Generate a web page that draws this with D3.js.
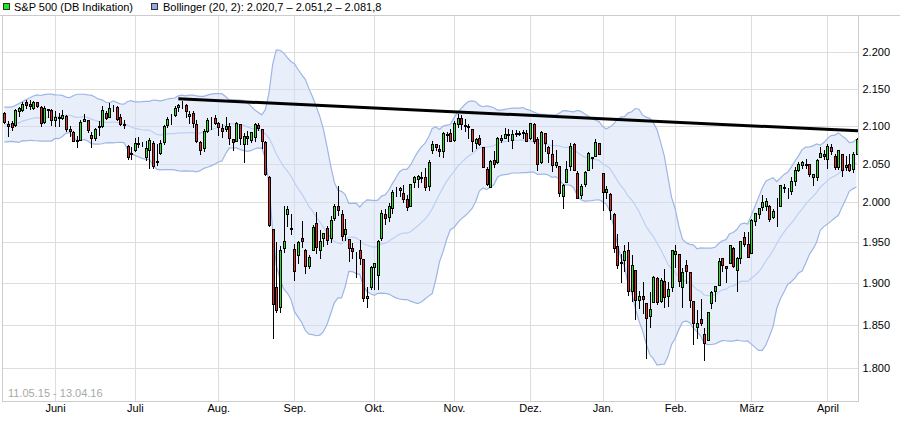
<!DOCTYPE html>
<html>
<head>
<meta charset="utf-8">
<script src="https://cdnjs.cloudflare.com/ajax/libs/d3/7.8.5/d3.min.js"></script>
<style>
body{margin:0;background:#fff}
svg{display:block;font-family:"Liberation Sans",Arial,sans-serif;font-size:11px}
</style>
</head>
<body>
<svg id="chart"></svg>
<script>
// trading days of the DB indication (German calendar)
var tradingDays = [
  ["2015-05", [11,12,13,14,15,18,19,20,21,22,26,27,28,29]],
  ["2015-06", [1,2,3,4,5,8,9,10,11,12,15,16,17,18,19,22,23,24,25,26,29,30]],
  ["2015-07", [1,2,3,6,7,8,9,10,13,14,15,16,17,20,21,22,23,24,27,28,29,30,31]],
  ["2015-08", [3,4,5,6,7,10,11,12,13,14,17,18,19,20,21,24,25,26,27,28,31]],
  ["2015-09", [1,2,3,4,7,8,9,10,11,14,15,16,17,18,21,22,23,24,25,28,29,30]],
  ["2015-10", [1,2,5,6,7,8,9,12,13,14,15,16,19,20,21,22,23,26,27,28,29,30]],
  ["2015-11", [2,3,4,5,6,9,10,11,12,13,16,17,18,19,20,23,24,25,26,27,30]],
  ["2015-12", [1,2,3,4,7,8,9,10,11,14,15,16,17,18,21,22,23,28,29,30]],
  ["2016-01", [4,5,6,7,8,11,12,13,14,15,18,19,20,21,22,25,26,27,28,29]],
  ["2016-02", [1,2,3,4,5,8,9,10,11,12,15,16,17,18,19,22,23,24,25,26,29]],
  ["2016-03", [1,2,3,4,7,8,9,10,11,14,15,16,17,18,21,22,23,24,29,30,31]],
  ["2016-04", [1,4,5,6,7,8,11,12,13]]
];

var open = [
  2117,2102,2103,2101,2120,2121,2131,2129,2123,2131,2125,2105,2122,2121,
  2108,2112,2110,2113,2096,2092,2081,2081,2106,2107,2087,2083,2098,2100,2117,2112,2124,2125,2112,2102,2073,2063,
  2068,2075,2076,2058,2068,2077,2053,2064,2078,2101,2108,2114,2125,2127,2128,2113,2117,2102,2078,2070,2093,2107,2110,
  2104,2097,2095,2100,2082,2080,2102,2075,2086,2081,2085,2101,2095,2078,2033,1966,1895,1872,1943,1985,1968,
  1942,1934,1955,1940,1921,1941,1974,1940,1955,1968,1955,1980,1996,1985,1960,1954,1943,1932,1940,1929,1882,1895,
  1920,1910,1955,1985,1982,1993,2015,2016,2012,2004,1996,2026,2030,2033,2033,2021,2068,2075,2069,2066,2088,2090,
  2081,2102,2110,2101,2098,2096,2077,2084,2072,2043,2020,2054,2052,2084,2084,2089,2081,2090,2089,2091,2090,
  2083,2102,2082,2052,2090,2072,2062,2048,2047,2008,2026,2047,2075,2038,2010,2024,2042,2058,2060,2077,
  2038,2013,2011,1985,1945,1926,1928,1940,1891,1916,1880,1885,1876,1861,1877,1906,1879,1903,1885,1895,
  1936,1935,1895,1922,1913,1878,1848,1857,1840,1833,1876,1891,1898,1930,1921,1925,1943,1916,1931,1956,1948,
  1937,1977,1985,1994,1996,1996,1981,1990,1995,2018,2016,2015,2027,2041,2048,2048,2049,2032,2032,2058,2063,
  2056,2072,2060,2045,2063,2046,2050,2043,2063
];
var high = [
  2118,2106,2106,2122,2125,2132,2134,2134,2133,2132,2126,2126,2122,2122,
  2119,2117,2121,2114,2100,2093,2086,2108,2115,2108,2092,2097,2106,2126,2120,2130,2127,2126,2115,2108,2074,2072,
  2083,2085,2078,2080,2084,2079,2075,2081,2101,2111,2115,2126,2129,2133,2129,2119,2119,2107,2079,2095,2110,2111,2114,
  2105,2102,2112,2103,2082,2105,2102,2090,2093,2092,2103,2103,2096,2080,2034,1966,1950,1945,1995,1995,1985,
  1948,1952,1976,1942,1934,1971,1988,1965,1962,1970,1983,1998,2021,1990,1979,1954,1949,1938,1953,1929,1895,1921,
  1925,1953,1990,1991,1999,2016,2019,2020,2022,2010,2024,2034,2035,2039,2044,2055,2080,2076,2074,2091,2092,2095,
  2106,2116,2114,2109,2102,2096,2084,2087,2072,2045,2055,2066,2085,2087,2097,2096,2094,2094,2093,2094,2094,
  2104,2104,2085,2093,2090,2073,2081,2067,2047,2023,2053,2077,2077,2040,2023,2040,2065,2058,2082,2077,
  2038,2021,2012,1986,1960,1935,1947,1950,1934,1916,1890,1902,1876,1889,1909,1907,1906,1917,1902,1940,
  1947,1935,1918,1928,1913,1878,1868,1881,1847,1865,1890,1897,1930,1931,1921,1947,1944,1932,1952,1963,1963,
  1979,1986,1993,2009,2006,1997,1992,2006,2022,2024,2018,2033,2046,2052,2053,2056,2050,2037,2056,2072,2068,
  2075,2075,2062,2068,2063,2060,2062,2065,2084
];
var low = [
  2103,2086,2094,2100,2113,2120,2124,2122,2122,2125,2099,2104,2112,2101,
  2099,2099,2109,2093,2086,2079,2072,2081,2106,2091,2072,2081,2087,2098,2109,2111,2119,2108,2101,2097,2056,2056,
  2066,2071,2073,2055,2044,2044,2048,2062,2076,2098,2102,2113,2120,2124,2112,2103,2098,2078,2063,2066,2092,2095,2102,
  2088,2085,2093,2075,2067,2080,2076,2052,2076,2078,2079,2094,2070,2035,1970,1835,1865,1866,1938,1970,1960,
  1904,1925,1944,1912,1918,1941,1937,1930,1945,1948,1950,1978,1984,1953,1953,1927,1930,1908,1923,1878,1872,1893,
  1893,1893,1953,1973,1976,1987,2008,2008,2001,1990,1996,2020,2020,2026,2016,2016,2064,2067,2060,2058,2080,2079,
  2080,2098,2096,2093,2083,2066,2070,2074,2045,2022,2019,2045,2051,2078,2083,2080,2070,2086,2087,2084,2080,
  2082,2077,2042,2051,2066,2052,2040,2045,2008,1993,2026,2042,2041,2005,2006,2021,2042,2044,2060,2062,
  1990,2005,1979,1938,1918,1901,1915,1886,1878,1857,1870,1864,1812,1848,1877,1875,1877,1872,1873,1891,
  1920,1897,1872,1900,1872,1828,1835,1850,1810,1833,1870,1878,1898,1915,1902,1924,1919,1891,1925,1945,1932,
  1937,1972,1980,1990,1990,1977,1980,1970,1995,2013,2005,2011,2022,2040,2044,2044,2034,2022,2029,2058,2056,
  2044,2062,2043,2043,2034,2041,2040,2039,2063
];
var close = [
  2105,2100,2098,2121,2123,2129,2128,2126,2131,2126,2104,2123,2121,2107,
  2112,2110,2114,2096,2093,2079,2080,2105,2109,2094,2084,2096,2100,2121,2110,2123,2124,2109,2102,2101,2058,2064,
  2077,2077,2075,2070,2081,2047,2052,2077,2100,2109,2107,2124,2127,2128,2119,2116,2103,2080,2068,2093,2108,2108,2104,
  2098,2093,2100,2084,2078,2104,2084,2086,2083,2091,2102,2097,2080,2036,1971,1875,1868,1941,1952,1991,1967,
  1915,1950,1951,1921,1932,1969,1944,1952,1961,1953,1978,1995,1990,1958,1967,1943,1939,1932,1931,1882,1884,1920,
  1924,1951,1987,1980,1996,2013,2015,2018,2004,1994,2024,2033,2034,2031,2019,2052,2075,2071,2066,2090,2089,2079,
  2104,2110,2102,2100,2099,2079,2082,2075,2046,2023,2053,2050,2084,2081,2089,2087,2089,2089,2090,2090,2080,
  2103,2080,2050,2092,2077,2064,2048,2052,2012,2022,2043,2073,2042,2006,2021,2039,2064,2057,2078,2063,
  2013,2017,1990,1943,1922,1924,1939,1890,1922,1880,1885,1881,1859,1869,1907,1877,1904,1883,1893,1940,
  1939,1903,1913,1915,1880,1853,1852,1852,1829,1865,1889,1896,1927,1922,1918,1946,1921,1930,1952,1948,1932,
  1978,1986,1993,2000,2002,1979,1989,1990,2022,2020,2016,2027,2041,2050,2052,2050,2037,2036,2055,2064,2060,
  2073,2066,2045,2067,2042,2048,2042,2062,2082
];
// closes of the 19 sessions before the first candle (needed for the 20-day band)
var closesBefore = [2092,2096,2107,2105,2081,2100,2097,2108,2113,2118,2109,2115,2107,2086,2115,2090,2080,2088,2116];

var monthLabels = ["Juni","Juli","Aug.","Sep.","Okt.","Nov.","Dez.","Jan.","Feb.","März","April"];
var yTicks = [1800,1850,1900,1950,2000,2050,2100,2150,2200];
var trendStart = [48, 2136];
var trendEnd = [235.4, 2093];
var bollLast = [2020.7, 2051.2, 2081.8];

var de = d3.formatLocale({decimal: ",", thousands: ".", grouping: [3], currency: ["", "€"]});
var fmtAxis = de.format(",.0f");
var fmtLeg = de.format(",.1f");

var dates = [];
tradingDays.forEach(function(m){
  m[1].forEach(function(d){ dates.push(m[0] + "-" + (d < 10 ? "0" + d : d)); });
});

var candles = dates.map(function(d, i){
  return {i: i, date: d, o: open[i], h: high[i], l: low[i], c: close[i]};
});

// Bollinger (20, 2)
var allClose = closesBefore.concat(close);
var boll = candles.map(function(c, i){
  var w = allClose.slice(i, i + 20);
  var m = d3.mean(w);
  var sd = Math.sqrt(d3.mean(w, function(v){ return (v - m) * (v - m); }));
  return {i: i, mid: m, up: m + 2 * sd, lo: m - 2 * sd};
});

var monthStarts = [];
for (var k = 1; k < dates.length; k++) {
  if (dates[k].slice(0, 7) != dates[k - 1].slice(0, 7)) monthStarts.push(k);
}

var W = 900, H = 421;
var plot = {left: 2.5, right: 858.5, top: 15.5, bottom: 401.5};

var x = d3.scaleLinear().domain([0, dates.length - 1]).range([4.3, 856.5]);
var y = d3.scaleLog().domain([1800, 2200]).range([368.3, 52.3]);

var svg = d3.select("#chart").attr("width", W).attr("height", H);

svg.append("defs").append("clipPath").attr("id", "clip")
  .append("rect")
  .attr("x", plot.left).attr("y", plot.top)
  .attr("width", plot.right - plot.left).attr("height", plot.bottom - plot.top);

// grid + axes
var yAxis = d3.axisRight(y)
  .tickValues(yTicks)
  .tickFormat(fmtAxis)
  .tickSize(-(plot.right - plot.left))
  .tickPadding(4);

svg.append("g")
  .attr("class", "yaxis")
  .attr("transform", "translate(" + plot.right + ",0)")
  .call(yAxis)
  .call(function(g){
    g.select(".domain").remove();
    g.selectAll("line").attr("stroke", "#dddddd").attr("shape-rendering", "crispEdges");
    g.selectAll("text").attr("fill", "#000").style("font-size", "11px");
  });

var xAxis = d3.axisBottom(x)
  .tickValues(monthStarts)
  .tickFormat(function(d, i){ return monthLabels[i]; })
  .tickSize(-(plot.bottom - plot.top))
  .tickPadding(3);

svg.append("g")
  .attr("class", "xaxis")
  .attr("transform", "translate(0," + plot.bottom + ")")
  .call(xAxis)
  .call(function(g){
    g.select(".domain").remove();
    g.selectAll("line").attr("stroke", "#dddddd").attr("shape-rendering", "crispEdges");
    g.selectAll("text").attr("fill", "#000").style("font-size", "11px");
  });

var chart = svg.append("g").attr("clip-path", "url(#clip)");

// band
var area = d3.area()
  .x(function(d){ return x(d.i); })
  .y0(function(d){ return y(d.lo); })
  .y1(function(d){ return y(d.up); });

chart.append("path")
  .datum(boll)
  .attr("d", area)
  .attr("fill", "#d1e0f8")
  .attr("fill-opacity", 0.5);

var lineOf = function(key){
  return d3.line().x(function(d){ return x(d.i); }).y(function(d){ return y(d[key]); });
};

chart.append("path").datum(boll).attr("d", lineOf("mid"))
  .attr("fill", "none").attr("stroke", "#bcd0f3").attr("stroke-width", 1.2);
chart.append("path").datum(boll).attr("d", lineOf("up"))
  .attr("fill", "none").attr("stroke", "#9eb6e4").attr("stroke-width", 1.2);
chart.append("path").datum(boll).attr("d", lineOf("lo"))
  .attr("fill", "none").attr("stroke", "#9eb6e4").attr("stroke-width", 1.2);

// candles
var cg = chart.append("g").attr("class", "candles").attr("shape-rendering", "crispEdges");

var cand = cg.selectAll("g").data(candles).enter().append("g");

cand.append("line")
  .attr("x1", function(d){ return Math.round(x(d.i)) + 0.5; })
  .attr("x2", function(d){ return Math.round(x(d.i)) + 0.5; })
  .attr("y1", function(d){ return Math.round(y(d.h)); })
  .attr("y2", function(d){ return Math.round(y(d.l)) + 1; })
  .attr("stroke", "#000");

cand.append("rect")
  .attr("x", function(d){ return Math.round(x(d.i)) - 0.5; })
  .attr("y", function(d){ return Math.round(y(Math.max(d.o, d.c))) + 0.5; })
  .attr("width", 2)
  .attr("height", function(d){
    return Math.max(0, Math.round(y(Math.min(d.o, d.c))) - Math.round(y(Math.max(d.o, d.c))));
  })
  .attr("fill", function(d){ return d.c >= d.o ? "#1fe61f" : "#e62a2a"; })
  .attr("stroke", "#000")
  .attr("stroke-width", 1);

// trend line
chart.append("line")
  .attr("x1", x(trendStart[0])).attr("y1", y(trendStart[1]))
  .attr("x2", x(trendEnd[0])).attr("y2", y(trendEnd[1]))
  .attr("stroke", "#000").attr("stroke-width", 3);

// frame
var frame = svg.append("g").attr("stroke", "#cccccc").attr("fill", "none").attr("shape-rendering", "crispEdges");
frame.append("line").attr("x1", 0).attr("x2", W).attr("y1", plot.top).attr("y2", plot.top);
frame.append("line").attr("x1", plot.left).attr("x2", plot.left).attr("y1", plot.top).attr("y2", plot.bottom);
frame.append("line").attr("x1", plot.right).attr("x2", plot.right).attr("y1", plot.top).attr("y2", plot.bottom);
frame.append("line").attr("x1", plot.left).attr("x2", plot.right).attr("y1", plot.bottom).attr("y2", plot.bottom);

// date range
var shortDate = function(s){ return s.slice(8, 10) + "." + s.slice(5, 7) + "." + s.slice(2, 4); };
svg.append("text")
  .attr("x", 8).attr("y", 397)
  .attr("fill", "#a8a8a8")
  .text(shortDate(dates[0]) + " - " + shortDate(dates[dates.length - 1]));

// legend
var leg = svg.append("g");
leg.append("rect").attr("x", 3.5).attr("y", 3.5).attr("width", 6).attr("height", 6)
  .attr("fill", "#1fe61f").attr("stroke", "#333").attr("shape-rendering", "crispEdges");
leg.append("text").attr("x", 14).attr("y", 11).text("S&P 500 (DB Indikation)");
leg.append("rect").attr("x", 151.5).attr("y", 3.5).attr("width", 6).attr("height", 6)
  .attr("fill", "#93abe2").attr("stroke", "#333").attr("shape-rendering", "crispEdges");
leg.append("text").attr("x", 163).attr("y", 11)
  .text("Bollinger (20, 2): " + bollLast.map(fmtLeg).join(" \u2013 "));
</script>
</body>
</html>
